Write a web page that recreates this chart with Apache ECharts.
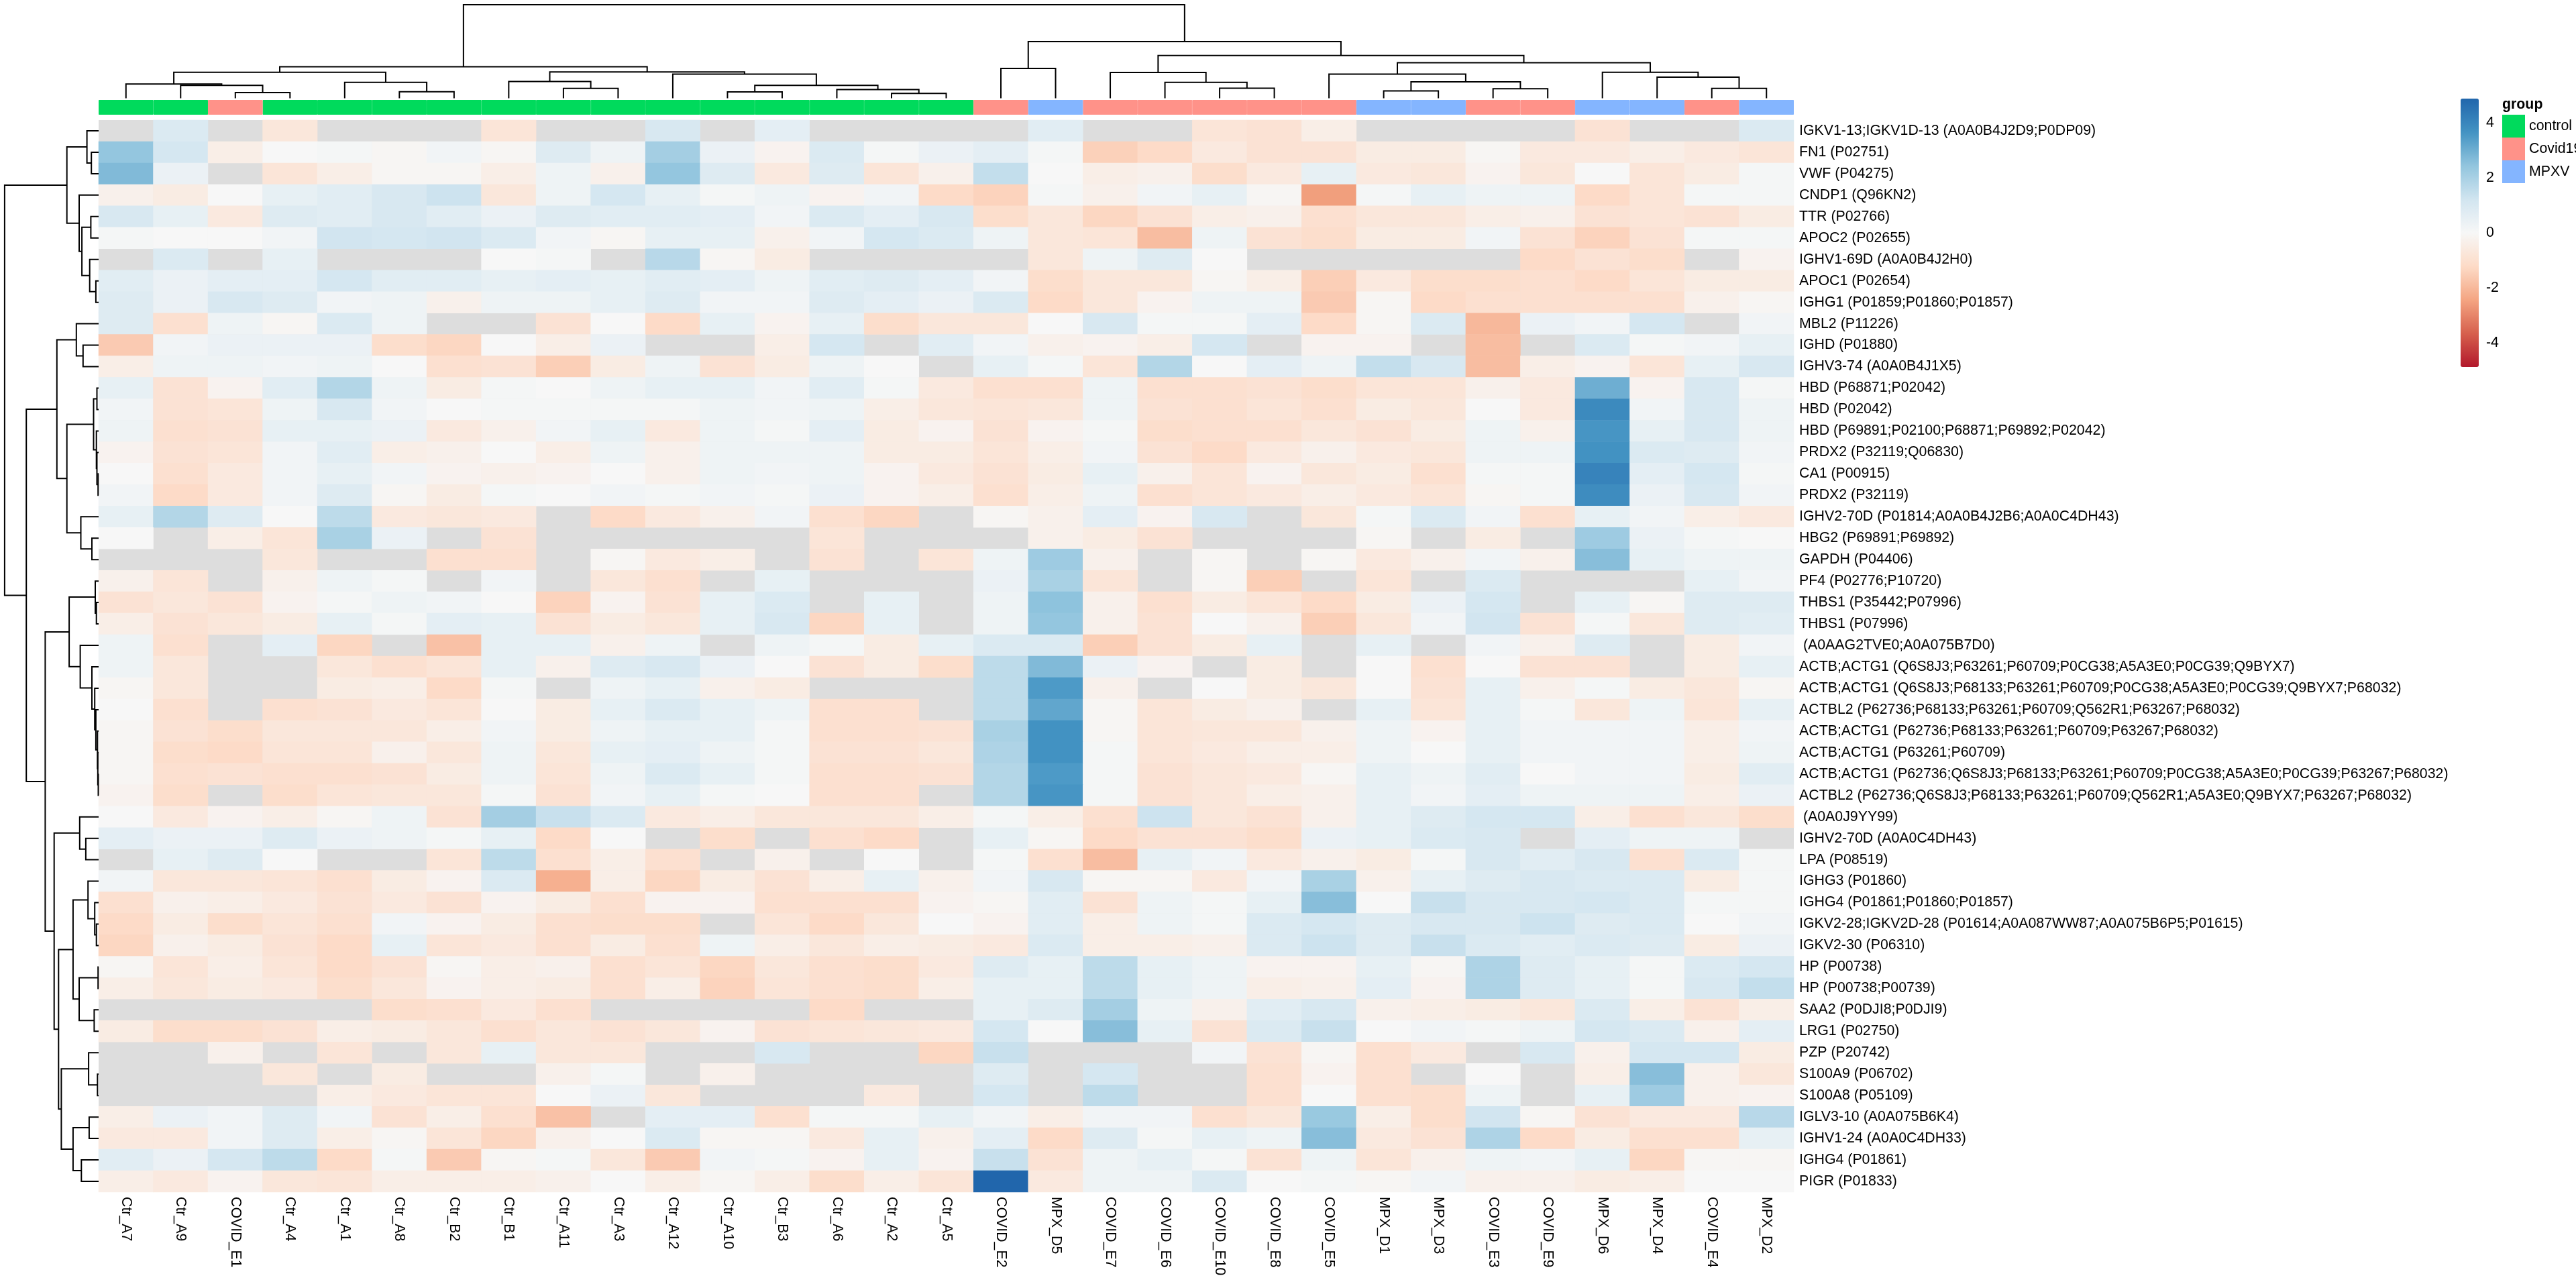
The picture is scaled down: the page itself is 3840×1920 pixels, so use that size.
<!DOCTYPE html>
<html><head><meta charset="utf-8">
<script src="https://cdn.jsdelivr.net/npm/echarts@6/dist/echarts.min.js"></script>
<style>html,body{margin:0;padding:0;background:#fff}#c{width:3840px;height:1920px}</style>
</head><body><div id="c"></div>
<script>
const N = null;
const columns = ["Ctr_A7","Ctr_A9","COVID_E1","Ctr_A4","Ctr_A1","Ctr_A8","Ctr_B2","Ctr_B1","Ctr_A11","Ctr_A3","Ctr_A12","Ctr_A10","Ctr_B3","Ctr_A6","Ctr_A2","Ctr_A5","COVID_E2","MPX_D5","COVID_E7","COVID_E6","COVID_E10","COVID_E8","COVID_E5","MPX_D1","MPX_D3","COVID_E3","COVID_E9","MPX_D6","MPX_D4","COVID_E4","MPX_D2"];
const groups = ["control","control","Covid19","control","control","control","control","control","control","control","control","control","control","control","control","control","Covid19","MPXV","Covid19","Covid19","Covid19","Covid19","Covid19","MPXV","MPXV","Covid19","Covid19","MPXV","MPXV","Covid19","MPXV"];
const proteins = ["IGKV1-13;IGKV1D-13 (A0A0B4J2D9;P0DP09)","FN1 (P02751)","VWF (P04275)","CNDP1 (Q96KN2)","TTR (P02766)","APOC2 (P02655)","IGHV1-69D (A0A0B4J2H0)","APOC1 (P02654)","IGHG1 (P01859;P01860;P01857)","MBL2 (P11226)","IGHD (P01880)","IGHV3-74 (A0A0B4J1X5)","HBD (P68871;P02042)","HBD (P02042)","HBD (P69891;P02100;P68871;P69892;P02042)","PRDX2 (P32119;Q06830)","CA1 (P00915)","PRDX2 (P32119)","IGHV2-70D (P01814;A0A0B4J2B6;A0A0C4DH43)","HBG2 (P69891;P69892)","GAPDH (P04406)","PF4 (P02776;P10720)","THBS1 (P35442;P07996)","THBS1 (P07996)"," (A0AAG2TVE0;A0A075B7D0)","ACTB;ACTG1 (Q6S8J3;P63261;P60709;P0CG38;A5A3E0;P0CG39;Q9BYX7)","ACTB;ACTG1 (Q6S8J3;P68133;P63261;P60709;P0CG38;A5A3E0;P0CG39;Q9BYX7;P68032)","ACTBL2 (P62736;P68133;P63261;P60709;Q562R1;P63267;P68032)","ACTB;ACTG1 (P62736;P68133;P63261;P60709;P63267;P68032)","ACTB;ACTG1 (P63261;P60709)","ACTB;ACTG1 (P62736;Q6S8J3;P68133;P63261;P60709;P0CG38;A5A3E0;P0CG39;P63267;P68032)","ACTBL2 (P62736;Q6S8J3;P68133;P63261;P60709;Q562R1;A5A3E0;Q9BYX7;P63267;P68032)"," (A0A0J9YY99)","IGHV2-70D (A0A0C4DH43)","LPA (P08519)","IGHG3 (P01860)","IGHG4 (P01861;P01860;P01857)","IGKV2-28;IGKV2D-28 (P01614;A0A087WW87;A0A075B6P5;P01615)","IGKV2-30 (P06310)","HP (P00738)","HP (P00738;P00739)","SAA2 (P0DJI8;P0DJI9)","LRG1 (P02750)","PZP (P20742)","S100A9 (P06702)","S100A8 (P05109)","IGLV3-10 (A0A075B6K4)","IGHV1-24 (A0A0C4DH33)","IGHG4 (P01861)","PIGR (P01833)"];

const r00=[N,.9,N,-.7,N,N,N,-.8,N,N,1.0,N,.6,N,N,N,N,.7,N,N,-.8,-.9,-.4,N,N,N,N,-.9,N,N,.9];
const r01=[2.4,1.1,-.4,0,.1,-.1,.2,-.1,.8,.3,2.1,.4,-.2,.9,.1,.4,.6,.1,-1.45,-1.2,-.6,-.9,-.9,-.5,-.5,-.1,-.6,-.6,-.4,-.6,-.8];
const r02=[2.7,.4,N,-.8,-.4,-.1,-.1,-.4,.3,-.3,2.4,.8,-.6,.8,-.8,-.3,1.5,0,-.4,-.3,-1.1,-.6,.5,-.6,-.7,-.2,-.7,0,-.8,-.5,.1];
const r03=[-.3,-.5,0,.5,.7,1.0,1.3,-.7,.3,1.1,.5,.1,.3,-.2,.2,-1.2,-1.4,.1,-.3,.2,.5,-.1,-2.55,.1,.5,.3,.3,-1.2,-.8,.1,.1];
const r04=[1.0,.5,-.6,.8,.7,1.0,.7,.4,.8,.7,.7,.6,.2,.9,.6,1.0,-1.1,-.7,-1.3,-.9,-.4,-.3,-1.0,-.7,-.7,-.4,-.3,-.9,-.8,-.9,-.5];
const r05=[.1,0,0,.2,1.2,1.1,1.2,.9,.2,-.1,.5,.5,-.3,.2,1.1,.9,.3,-.7,-.8,-1.9,.3,-.9,-1.1,-.5,-.5,.2,-.9,-1.4,-.9,.1,.1];
const r06=[N,.9,N,.5,N,N,N,0,.1,N,1.7,-.1,-.5,N,N,N,N,-.7,.3,.8,0,N,N,N,N,N,-1.2,-.9,-1.1,N,-.2];
const r07=[.7,.4,.6,.6,1.1,.7,.7,.5,.6,.5,.7,.6,.3,.7,.8,.6,.2,-1.1,-.7,-.7,-.1,-.4,-1.5,-.6,-1.1,-1.1,-1.0,-1.2,-.8,-.5,-.5];
const r08=[.8,.4,1.0,.8,.2,.3,-.3,.3,.3,.5,.8,.2,.2,.8,.6,.4,.9,-1.2,-.7,-.2,.3,.3,-1.6,-.1,-1.2,-1.0,-1.0,-1.0,-1.0,-.3,-.1];
const r09=[.8,-1.0,.3,-.1,.9,.3,N,N,-.9,0,-1.2,.5,-.2,.5,-1.1,-.7,-.7,0,1.0,.1,.1,.6,-1.2,-.1,.9,-2.0,.4,.2,1.1,N,.2];
const r10=[-1.6,.2,.4,.4,.4,-1.1,-1.3,0,-.4,.4,N,N,-.4,1.1,N,.7,.2,-.3,-.2,-.4,1.1,N,-.2,-.2,N,-1.9,N,.9,.1,.2,.5];
const r11=[-.4,.3,.3,.2,.3,0,-1.0,-.9,-1.5,-.5,.3,-.9,-.5,.3,0,N,.5,.1,-.8,1.8,0,.6,.3,1.5,1.0,-1.9,-.4,-.2,-.8,.5,1.0];
const r12=[.5,-.9,-.2,.7,1.8,.3,-.5,.1,0,.3,.5,.5,.2,.7,.1,-.6,-1.0,-1.0,.3,-1.0,-1.0,-.9,-1.1,-.8,-.8,-.3,-.6,3.0,-.2,1.0,.1];
const r13=[.2,-.9,-.8,.3,1.0,.2,0,.1,.1,.1,.1,.3,.2,.3,-.4,-.7,-.8,-.7,.3,-.9,-1.0,-.8,-1.0,-.5,-.7,0,-.6,3.9,.2,1.0,.3];
const r14=[.3,-1.0,-.9,.5,.5,.4,-.6,-.3,.2,.5,-.6,.3,.1,.6,-.5,-.2,-.9,-.2,.1,-1.1,-1.0,-1.0,-.7,-.9,-.5,.3,-.3,3.6,.5,1.0,.3];
const r15=[-.2,-.9,-.8,.2,.7,-.4,-.3,0,-.4,.3,-.3,.3,.3,.3,-.5,-.5,-.8,-.4,.2,-.9,-1.2,-.6,-.3,-.6,-.7,.3,.3,3.7,.9,.8,.2];
const r16=[0,-1.0,-.6,.2,.5,.2,-.2,-.3,-.2,0,-.3,.3,.2,.3,-.2,-.6,-.9,-.5,.5,-.3,-.8,-.2,-.7,-.5,-1.0,.1,.1,4.1,.6,1.1,.1];
const r17=[.2,-1.2,-.6,.2,.8,-.1,-.5,.1,0,.2,.1,.2,.1,.4,-.2,-.4,-1.0,-.4,.3,-1.0,-.8,-.6,-.4,-.6,-.8,-.1,.1,3.85,.4,1.0,.2];
const r18=[.5,1.8,.8,0,1.6,-.6,-.7,-.6,N,-1.2,-.6,-.3,.2,-1.0,-1.3,N,-.1,-.3,.6,-.2,1.0,N,-.7,.1,.9,.2,-1.0,.5,.2,-.4,-.6];
const r19=[0,N,-.4,-.8,2.0,.4,N,-.9,N,N,N,N,N,-.8,N,N,N,-.3,-.5,-.9,N,N,N,-.1,N,-.5,N,2.2,.4,.1,0];
const r20=[N,N,N,-.7,N,N,-1.0,-1.0,N,-.1,-.6,-.4,N,-.9,N,-.8,.3,2.2,-.3,N,-.1,N,-.1,-.6,-.3,.2,-.3,2.6,.5,.3,.3];
const r21=[-.3,-.8,N,-.3,.3,.1,N,.2,N,-.7,-1.0,N,.5,N,N,N,.4,2.0,-.8,N,-.1,-1.5,N,-.8,N,.9,N,N,N,.5,.2];
const r22=[-.9,-.7,-.9,-.2,.1,.3,.2,0,-1.4,-.2,-.9,.5,.9,N,.5,N,.3,2.5,-.3,-1.0,-.5,-.8,-1.2,-.5,.4,1.1,N,.5,-.1,.8,.8];
const r23=[-.4,-.9,-.7,-.5,.5,.1,.6,.5,-.9,-.5,-.7,.5,1.0,-1.3,.5,N,.3,2.4,-.3,-.9,0,-.3,-1.5,-.7,.2,1.2,-.9,.1,-.7,.8,.7];
const r24=[.3,-1.0,N,.6,-1.3,N,-1.8,.5,.5,-.3,.3,N,.3,.1,-.5,.5,.9,.9,-1.5,-.9,-.5,.5,N,.5,N,.2,-.3,.8,N,-.5,.2];
const r25=[.3,-.7,N,N,-.7,-1.0,-.8,.5,-.3,.8,1.0,.4,0,-.9,-.5,-1.1,1.6,2.7,.4,-.2,N,-.5,N,0,-1.0,0,-.9,-.9,N,-.5,.5];
const r26=[-.1,-.7,N,N,-.5,-.4,-1.2,.1,N,.3,.5,-.3,-.5,N,N,N,1.6,3.5,-.3,N,0,-.5,-.7,0,-.9,.5,-.3,.1,-.5,-.7,-.1];
const r27=[0,-1.0,N,-1.0,-.9,-.6,-.8,0,-.5,.5,.9,.5,.3,-1.0,-1.0,N,1.6,3.2,-.1,-.8,-.5,-.3,N,.5,-.8,.5,.1,-.7,.3,-.8,.5];
const r28=[-.1,-.9,-1.1,-.7,-.7,-.7,-.4,.2,-.5,.3,.5,.5,.1,-1.0,-1.0,-.9,2.0,3.7,-.1,-.8,-.7,-.7,-.3,.3,-.2,.5,.2,.2,.2,-.4,.2];
const r29=[-.1,-1.1,-1.2,-.8,-.8,-.3,-.7,.3,-.7,.5,.6,.3,.1,-.9,-.9,-.7,1.9,3.7,.1,-.8,-.6,-.4,-.4,.3,0,.5,.2,.2,.2,-.4,.3];
const r30=[-.1,-1.0,-.9,-1.0,-1.0,-.9,-.5,.3,-.8,.3,.9,.5,.1,-1.0,-1.0,-.9,1.8,3.5,.1,-.9,-.7,-.6,-.1,.5,.3,.7,0,.2,.2,-.5,.7];
const r31=[-.2,-1.1,N,-1.1,-.8,-.7,-.7,.1,-.9,.2,.5,.1,0,-1.0,-1.0,N,1.8,3.6,.1,-.9,-.7,-.4,-.3,.5,.2,.6,.3,.3,.3,-.4,.4];
const r32=[0,-.6,-.2,-.4,-.1,.3,-.9,2.1,1.4,.9,-.6,-.4,-.7,-.7,-.7,-.4,.1,-.4,-1.0,1.3,-.7,-.9,-.3,.5,.8,1.1,1.1,-.4,-1.0,-.7,-1.1];
const r33=[.6,.4,.4,.8,.4,.3,.1,.5,-1.2,0,N,-1.1,N,-1.0,-1.2,N,.5,-.1,-1.2,-.9,-.9,-1.1,.4,.5,.9,1.0,N,.6,.3,.3,N];
const r34=[N,.5,.8,0,N,N,-.8,1.6,-1.0,-.4,-1.0,N,-.3,N,0,N,.1,-1.0,-1.9,.5,.2,-.6,-.3,-.5,.1,1.0,.7,1.0,-1.0,.9,.1];
const r35=[.2,-.7,-.7,-.8,-1.0,-.5,-.2,.9,-2.2,-.4,-1.3,-.5,-.9,-.4,.5,-.3,.2,1.0,-.1,-.1,-.6,.2,2.0,-.3,.5,.8,1.0,.9,.9,-.5,.1];
const r36=[-1.0,-.3,-.4,-.6,-.9,-.6,-.9,-.2,-.5,-1.0,-.2,-.2,-1.0,-1.0,-1.0,-.2,-.1,.7,-.9,.3,.1,.5,2.6,0,1.4,1.0,1.0,1.1,.9,.1,.1];
const r37=[-1.2,-.5,-1.1,-.8,-1.0,.2,-.2,-.5,-1.0,-1.1,-1.1,N,-.8,-1.2,-.7,0,-.2,.7,-.4,.3,.1,.9,1.1,.8,1.0,1.0,1.3,.8,.9,0,.2];
const r38=[-1.3,-.3,-.5,-.9,-1.2,.5,-.8,-.6,-1.0,-.5,-1.0,.3,-.4,-.7,-.4,-.5,-.6,.9,-.4,-.4,-.3,.9,1.3,.8,1.4,.9,.7,.9,.8,-.5,.4];
const r39=[-.1,-.8,-.4,-.8,-1.2,-.9,-.1,-.4,-.3,-1.0,-.8,-1.3,-.7,-1.0,-1.1,-.6,.8,.5,1.6,.5,.3,-.2,-.2,.5,-.1,1.9,.8,.5,.1,.9,1.1];
const r40=[-.4,-.7,-.5,-.6,-1.1,-.7,-.2,-.4,-.5,-1.0,-.4,-1.4,-.8,-1.0,-1.1,-.4,.5,.5,1.6,.5,.3,-.4,-.3,.6,-.2,1.9,.8,.5,.1,1.0,1.5];
const r41=[N,N,N,N,N,-1.1,-1.0,-.6,-1.0,N,N,N,N,-1.2,N,N,.5,.8,2.1,.3,-.3,.7,1.0,-.3,-.4,-.5,-.7,.9,-.4,-.9,-.4];
const r42=[-.5,-1.1,-1.1,-.9,-.4,-.5,-.7,-1.0,-.7,-.9,-.7,-.2,-.9,-.8,-.7,-.6,1.1,0,2.6,.5,-.9,.9,1.4,0,.2,.1,.3,1.1,.9,-.3,.6];
const r43=[N,N,-.3,N,-.8,N,-.7,.5,-.7,-.7,N,N,1.0,N,N,-1.3,1.4,N,N,N,.2,-.9,-.1,-1.0,-.6,N,1.0,-.3,1.1,1.1,-.5];
const r44=[N,N,N,-.7,N,-.5,N,N,-.3,.1,N,-.3,N,N,N,N,.8,N,1.1,N,N,-1.0,-.2,-1.0,N,0,N,-.4,2.6,-.3,-.7];
const r45=[N,N,N,N,-.4,-.6,-.8,-.8,0,.4,-.7,N,N,N,-.6,N,1.1,N,1.6,N,N,-1.0,0,-1.0,-1.1,.3,N,.5,2.2,-.3,-.2];
const r46=[-.4,.4,.2,.8,.2,-.9,-.4,-1.0,-1.8,N,.6,.6,-1.0,.1,.1,.5,.2,-.4,.2,.2,-1.0,-.7,2.3,-.4,-1.1,1.2,-.1,-.9,-.6,-.6,1.7];
const r47=[-.6,-.6,.2,.8,-.4,-.1,-.8,-1.3,-.3,0,.9,-.1,-.1,-.6,.5,-.3,.6,-1.2,.8,.1,.5,.3,2.6,-.6,-.9,1.9,-1.2,-.5,-1.0,-1.0,.5];
const r48=[.7,.4,1.1,1.6,-1.2,.1,-1.6,-.1,.1,-.7,-1.6,.2,.1,-.2,.5,-.2,1.4,-.9,.3,.5,.1,-.9,.3,-.8,-.3,.3,.2,.5,-1.3,-.1,-.1];
const r49=[-.4,-.6,-.2,-.7,-.8,-.4,-.4,-.4,-.3,0,-.4,-.1,-.4,-1.1,-.4,-.8,4.88,-.6,.3,.3,.9,0,.1,-.1,.2,-.3,-.3,-.5,-.4,0,0];
const matrix=[r00,r01,r02,r03,r04,r05,r06,r07,r08,r09,r10,r11,r12,r13,r14,r15,r16,r17,r18,r19,r20,r21,r22,r23,r24,r25,r26,r27,r28,r29,r30,r31,r32,r33,r34,r35,r36,r37,r38,r39,r40,r41,r42,r43,r44,r45,r46,r47,r48,r49];

// dendrograms: [left child, right child, height]; negative = leaf -(index+1), positive = earlier merge (1-based)
const colMerges=[[-3,-4,8.6],[-2,1,19.2],[-1,2,21.2],[-6,-7,9.8],[-5,4,23.7],[3,5,38.8],[-9,-10,14.7],[-8,7,24.9],[-12,-13,9.4],[-15,-16,7.3],[-14,10,13.1],[9,11,19.2],[-11,12,35.9],[8,13,39.2],[6,14,46.9],[-17,-18,44.5],[-21,-22,15.1],[-20,17,23.7],[-19,18,38.4],[-24,-25,11],[-26,-27,14.3],[20,21,24.5],[-23,22,35.9],[-30,-31,14.7],[-29,24,31.4],[-28,25,38.8],[23,26,53.1],[19,27,63.7],[16,28,84.5],[15,29,139.6]];
const rowMerges=[[-2,-3,10.8],[-1,1,17.4],[-8,-9,4.1],[-7,3,13.3],[-5,-6,11.6],[5,4,24.9],[-4,6,29],[2,7,47.3],[-11,-12,23.2],[-10,9,33.2],[-13,-14,2.5],[-17,-18,.8],[-16,12,2.5],[-15,13,3.3],[11,14,7.5],[-20,-21,10],[-19,16,26.5],[15,17,47.3],[10,18,62.2],[-23,-24,3.3],[-22,20,5],[-31,-32,.5],[-30,22,1.2],[-29,23,1.7],[-28,24,4.1],[-27,25,5.8],[-26,26,10],[-25,27,27.4],[21,28,43.9],[-34,-35,19.1],[-33,30,28.2],[-38,-39,3.3],[-37,32,5.8],[-36,33,15.8],[-40,-41,.8],[-42,-43,6.6],[35,36,29],[34,37,38.1],[-45,-46,1.7],[-44,39,14.9],[-47,-48,14.1],[-49,-50,25.7],[41,42,38.1],[40,43,55.6],[38,44,59.7],[31,45,66.3],[29,46,79.6],[19,47,107.8],[8,48,140.1]];

const groupNames=["control","Covid19","MPXV"];
const groupColors={control:"#00DA5C",Covid19:"#FF9289",MPXV:"#84B5FF"};
const ramp=["#B2182B","#D6604D","#F4A582","#FDDBC7","#F7F7F7","#D1E5F0","#92C5DE","#4393C3","#2166AC"];
const legendTicks=[-4,-2,0,2,4];
const scaleLimit=4.88;

function tree(merges){
  const pos=[],ht=[],out=[];
  const p=i=>i<0?(-i-1+0.5):pos[i-1];
  const h=i=>i<0?0:ht[i-1];
  merges.forEach(m=>{
    out.push([p(m[0]),h(m[0]),p(m[1]),h(m[1]),m[2]]);
    pos.push((p(m[0])+p(m[1]))/2); ht.push(m[2]);
  });
  return out;
}
const heatData=[];
matrix.forEach((row,r)=>row.forEach((v,c)=>{if(v!==null)heatData.push([c,r,v]);}));
const font="Liberation Sans";
const fs=21.33;
const L=147,W=2527,T=179,H=1598;

function dendro(xi,yi,data,vertical){
  return {type:'custom',xAxisIndex:xi,yAxisIndex:yi,data:data,silent:true,clip:false,animation:false,
    renderItem:(params,api)=>{
      const p1=api.value(0),h1=api.value(1),p2=api.value(2),h2=api.value(3),h=api.value(4);
      const pts=(vertical?[[h1,p1],[h,p1],[h,p2],[h2,p2]]:[[p1,h1],[p1,h],[p2,h],[p2,h2]]).map(q=>api.coord(q));
      return {type:'polyline',shape:{points:pts},style:{stroke:'#000',lineWidth:2,fill:null}};
    }};
}
const hidden=(o)=>Object.assign({show:false},o);
const option={
  backgroundColor:'#fff',animation:false,
  textStyle:{fontFamily:font,color:'#000'},
  title:{text:'group',left:3730,top:146,padding:0,textStyle:{fontFamily:font,fontSize:fs,fontWeight:'bold',color:'#000'}},
  legend:{orient:'vertical',left:3730,top:171,padding:0,itemGap:0,itemWidth:32,itemHeight:32,icon:'rect',selectedMode:false,
    data:groupNames,textStyle:{fontFamily:font,fontSize:fs,color:'#000',padding:[0,0,0,2]}},
  grid:[
    {left:L,width:W,top:T,height:H,show:true,backgroundColor:'#DDDDDD',borderWidth:0},
    {left:L,width:W,top:149,height:22},
    {left:L,width:W,top:0,height:146.5},
    {left:0,width:L,top:T,height:H},
    {left:3668,width:27,top:147,height:400}
  ],
  xAxis:[
    {type:'category',gridIndex:0,data:columns,position:'bottom',axisLine:{show:false},axisTick:{show:false},splitLine:{show:false},
      axisLabel:{interval:0,rotate:-90,margin:7,fontFamily:font,fontSize:fs,color:'#000'}},
    hidden({type:'category',gridIndex:1,data:columns}),
    hidden({type:'value',gridIndex:2,min:0,max:31}),
    hidden({type:'value',gridIndex:3,min:0,max:147,inverse:true}),
    hidden({type:'value',gridIndex:4,min:0,max:1})
  ],
  yAxis:[
    {type:'category',gridIndex:0,data:proteins,inverse:true,position:'right',axisLine:{show:false},axisTick:{show:false},splitLine:{show:false},
      axisLabel:{interval:0,margin:8,fontFamily:font,fontSize:fs,color:'#000'}},
    hidden({type:'value',gridIndex:1,min:0,max:1}),
    hidden({type:'value',gridIndex:2,min:0,max:146.5}),
    hidden({type:'value',gridIndex:3,min:0,max:50,inverse:true}),
    {type:'value',gridIndex:4,min:-scaleLimit,max:scaleLimit,position:'right',axisLine:{show:false},axisTick:{show:false},splitLine:{show:false},
      axisLabel:{customValues:legendTicks,margin:11,fontFamily:font,fontSize:fs,color:'#000',showMinLabel:true,showMaxLabel:true,hideOverlap:false}}
  ],
  visualMap:{type:'continuous',seriesIndex:0,min:-scaleLimit,max:scaleLimit,left:3668,top:147,itemWidth:27,itemHeight:400,padding:0,
    calculable:false,showLabel:false,text:null,hoverLink:false,inRange:{color:ramp}},
  series:[
    {type:'heatmap',xAxisIndex:0,yAxisIndex:0,data:heatData,silent:true,progressive:0},
    ...groupNames.map(g=>({type:'bar',name:g,xAxisIndex:1,yAxisIndex:1,stack:'grp',barWidth:'100%',barCategoryGap:0,silent:true,
      itemStyle:{color:groupColors[g],borderColor:groupColors[g],borderWidth:1},
      data:groups.map(x=>x===g?1:null)})),
    dendro(2,2,tree(colMerges),false),
    dendro(3,3,tree(rowMerges),true)
  ]
};
echarts.init(document.getElementById('c'),null,{renderer:'canvas',width:3840,height:1920}).setOption(option);
</script></body></html>
